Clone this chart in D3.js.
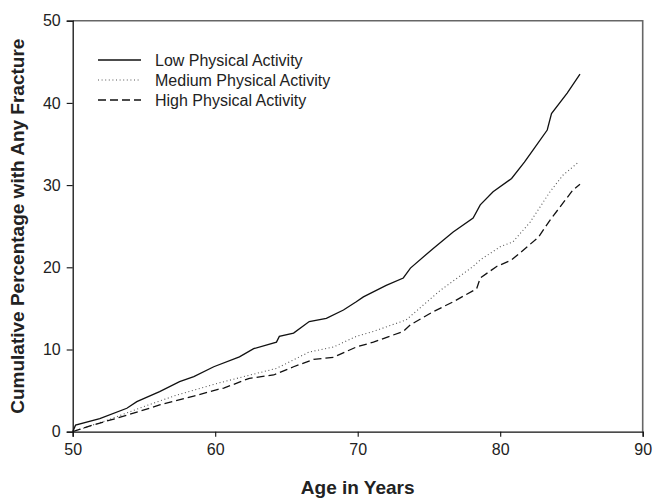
<!DOCTYPE html>
<html>
<head>
<meta charset="utf-8">
<script src="https://cdn.jsdelivr.net/npm/d3@7"></script>
<style>
  body { margin: 0; background: #fff; }
  svg { display: block; font-family: "Liberation Sans", Arial, sans-serif; }
</style>
</head>
<body>
<svg id="chart"></svg>
<script>
// cumulative % with any fracture
const lowAge = [50, 50.2, 51.9, 53.8, 54.5, 56.1, 57.5, 58.5, 59.9, 61.7, 62.7, 64.3, 64.5, 65.5, 66.6, 67.8, 69.0, 69.9,
  70.4, 72.0, 73.2, 73.7, 75.3, 76.7, 78.1, 78.6, 79.5, 80.8, 81.7, 82.4, 83.3, 83.6, 84.7, 85.6];
const lowPct = [0, 0.8, 1.6, 2.85, 3.65, 4.87, 6.1, 6.7, 7.9, 9.1, 10.1, 10.9, 11.6, 12.0, 13.4, 13.8, 14.8, 15.8,
  16.4, 17.8, 18.7, 19.9, 22.3, 24.3, 26.0, 27.6, 29.2, 30.8, 32.8, 34.5, 36.7, 38.7, 41.2, 43.5];

const medAge = [50, 52.6, 54.9, 57.3, 59.2, 60.2, 62.0, 64.3, 66.6, 68.3, 69.9, 71.1, 73.4, 75.8, 78.1, 78.6, 80.0,
  80.9, 82.1, 83.5, 84.4, 85.5];
const medPct = [0, 1.5, 3.0, 4.46, 5.4, 5.9, 6.7, 7.7, 9.7, 10.3, 11.6, 12.2, 13.6, 17.2, 20.1, 20.9, 22.5,
  23.1, 25.5, 29.2, 31.2, 32.8];

const highAge = [50, 51.4, 53.8, 56.1, 58.5, 60.2, 60.6, 62.4, 64.1, 65.5, 66.9, 68.3, 69.9, 71.1, 73.2, 73.7, 75.3,
  76.7, 78.35, 78.6, 79.75, 80.8, 81.9, 82.7, 83.5, 84.4, 85.1, 85.6];
const highPct = [0, 0.8, 2.0, 3.25, 4.34, 5.15, 5.3, 6.5, 6.9, 7.9, 8.8, 9.05, 10.3, 10.9, 12.2, 13.0, 14.6,
  15.8, 17.4, 18.7, 20.1, 20.9, 22.5, 23.7, 25.75, 27.8, 29.4, 30.1];

const seriesNames = ["Low Physical Activity", "Medium Physical Activity", "High Physical Activity"];
const xTicks = [50, 60, 70, 80, 90];
const yTicks = [0, 10, 20, 30, 40, 50];

const width = 653, height = 498;
const margin = {left: 72.7, right: 10.3, top: 20.7, bottom: 66.3};

const svg = d3.select("#chart").attr("width", width).attr("height", height);

const x = d3.scaleLinear().domain([50, 90]).range([margin.left, width - margin.right]);
const y = d3.scaleLinear().domain([0, 50]).range([height - margin.bottom, margin.top]);

// frame: top & right in grey
svg.append("path")
  .attr("d", `M${x(50)},${y(50)}H${x(90)}V${y(0)}`)
  .attr("fill", "none")
  .attr("stroke", "#666")
  .attr("stroke-width", 1.6);

const xAxis = svg.append("g")
  .attr("transform", `translate(0,${y(0)})`)
  .call(d3.axisBottom(x).tickValues(xTicks).tickSize(5).tickPadding(7));

const yAxis = svg.append("g")
  .attr("transform", `translate(${x(50)},0)`)
  .call(d3.axisLeft(y).tickValues(yTicks).tickSize(6).tickPadding(6));

[xAxis, yAxis].forEach(function(g) {
  g.select(".domain").attr("stroke", "#111").attr("stroke-width", 1.3);
  g.selectAll(".tick line").attr("stroke", "#111").attr("stroke-width", 1.1);
  g.selectAll(".tick text").attr("fill", "#222").style("font-size", "16px")
    .style("font-family", "'Liberation Sans', Arial, sans-serif");
});

svg.append("text")
  .attr("x", (x(50) + x(90)) / 2)
  .attr("y", 494)
  .attr("text-anchor", "middle")
  .style("font-size", "19px").style("font-weight", "bold").attr("fill", "#222")
  .text("Age in Years");

svg.append("text")
  .attr("transform", `translate(24,${(y(0) + y(50)) / 2}) rotate(-90)`)
  .attr("text-anchor", "middle")
  .style("font-size", "19px").style("font-weight", "bold").attr("fill", "#222")
  .text("Cumulative Percentage with Any Fracture");

const styles = [
  {dash: null, color: "#111", w: 1.3},
  {dash: "1,2.6", color: "#555", w: 1.1},
  {dash: "8,4", color: "#111", w: 1.3}
];

const series = [
  d3.zip(lowAge, lowPct),
  d3.zip(medAge, medPct),
  d3.zip(highAge, highPct)
];

const line = d3.line().x(d => x(d[0])).y(d => y(d[1]));

series.forEach(function(s, i) {
  svg.append("path")
    .datum(s)
    .attr("d", line)
    .attr("fill", "none")
    .attr("stroke", styles[i].color)
    .attr("stroke-width", styles[i].w)
    .attr("stroke-dasharray", styles[i].dash);
});

// legend
const legend = svg.append("g");
seriesNames.forEach(function(name, i) {
  const ly = 60 + i * 20;
  legend.append("line")
    .attr("x1", 98).attr("x2", 141).attr("y1", ly).attr("y2", ly)
    .attr("stroke", styles[i].color)
    .attr("stroke-width", styles[i].w)
    .attr("stroke-dasharray", styles[i].dash);
  legend.append("text")
    .attr("x", 155).attr("y", ly).attr("dy", "0.35em")
    .style("font-size", "16px").attr("fill", "#222")
    .text(name);
});
</script>
</body>
</html>
